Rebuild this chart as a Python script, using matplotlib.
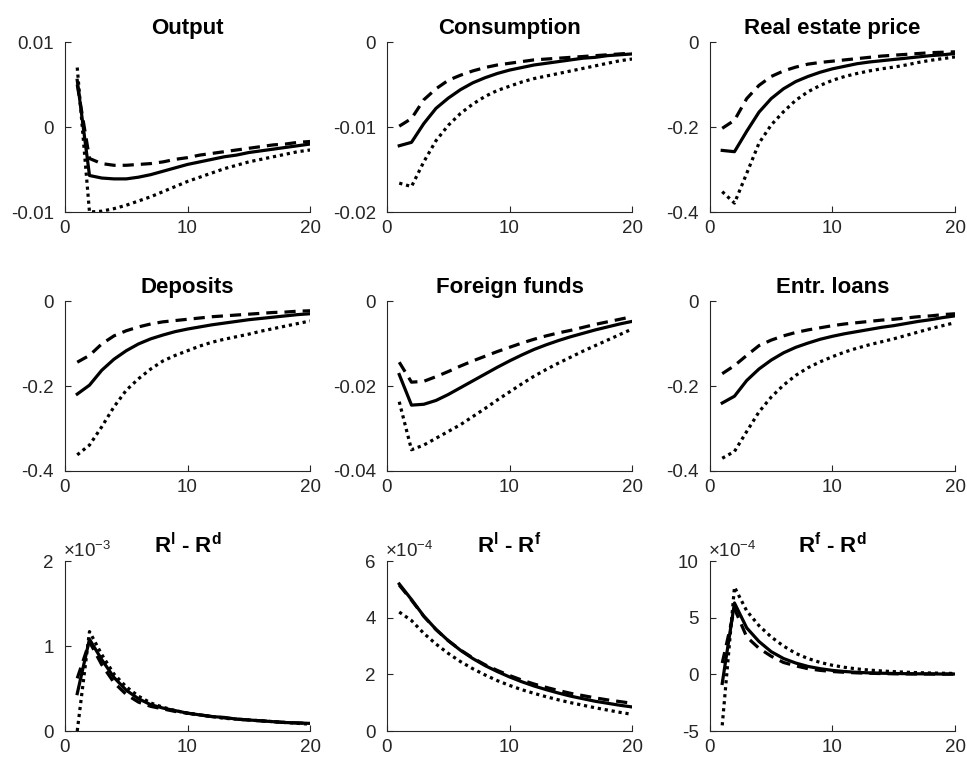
import numpy as np
import matplotlib
matplotlib.use("Agg")
import matplotlib.pyplot as plt
from matplotlib.ticker import FuncFormatter

plt.rcParams['font.family'] = ['Liberation Sans', 'DejaVu Sans']
plt.rcParams['mathtext.fontset'] = 'custom'
plt.rcParams['mathtext.rm'] = 'Liberation Sans'
plt.rcParams['mathtext.bf'] = 'Liberation Sans:bold'
plt.rcParams['mathtext.it'] = 'Liberation Sans:italic'

t = np.arange(1, 21)

# Output
out_solid = [0.0055, -0.0057, -0.0060, -0.0061, -0.0061, -0.0059, -0.0056, -0.0052, -0.0048, -0.0044,
             -0.0041, -0.0038, -0.0035, -0.0033, -0.0030, -0.0028, -0.0026, -0.0024, -0.0022, -0.0020]
out_dash = [0.0050, -0.0037, -0.0043, -0.0045, -0.0045, -0.0044, -0.0043, -0.0041, -0.0038, -0.0036,
            -0.0033, -0.0031, -0.0029, -0.0027, -0.0025, -0.0023, -0.0021, -0.0020, -0.0018, -0.0017]
out_dot = [0.0070, -0.0100, -0.0099, -0.0096, -0.0092, -0.0087, -0.0082, -0.0076, -0.0070, -0.0064,
           -0.0059, -0.0054, -0.0049, -0.0045, -0.0041, -0.0038, -0.0035, -0.0032, -0.0029, -0.0027]

# Consumption
con_solid = [-0.0122, -0.0118, -0.0096, -0.0078, -0.0066, -0.0056, -0.0048, -0.0042, -0.0037, -0.0033,
             -0.0030, -0.0027, -0.0025, -0.0023, -0.0021, -0.0019, -0.0018, -0.0016, -0.0015, -0.0014]
con_dash = [-0.0099, -0.0090, -0.0068, -0.0055, -0.0045, -0.0039, -0.0034, -0.0030, -0.0027, -0.0025,
            -0.0023, -0.0021, -0.0020, -0.0019, -0.0018, -0.0017, -0.0016, -0.0015, -0.0014, -0.0013]
con_dot = [-0.0166, -0.0170, -0.0141, -0.0116, -0.0098, -0.0084, -0.0073, -0.0064, -0.0057, -0.0052,
           -0.0047, -0.0043, -0.0040, -0.0037, -0.0034, -0.0031, -0.0028, -0.0025, -0.0022, -0.0020]

# Real estate price
rep_solid = [-0.255, -0.258, -0.210, -0.165, -0.133, -0.110, -0.093, -0.081, -0.071, -0.063,
             -0.057, -0.051, -0.047, -0.044, -0.041, -0.038, -0.035, -0.032, -0.030, -0.027]
rep_dash = [-0.203, -0.184, -0.133, -0.102, -0.081, -0.068, -0.059, -0.052, -0.048, -0.045,
            -0.042, -0.039, -0.036, -0.033, -0.031, -0.029, -0.027, -0.025, -0.024, -0.023]
rep_dot = [-0.352, -0.379, -0.309, -0.238, -0.195, -0.164, -0.137, -0.117, -0.102, -0.090,
           -0.081, -0.074, -0.068, -0.063, -0.059, -0.054, -0.048, -0.043, -0.039, -0.035]

# Deposits
dep_solid = [-0.219, -0.198, -0.163, -0.137, -0.117, -0.101, -0.089, -0.080, -0.072, -0.066,
             -0.061, -0.056, -0.052, -0.048, -0.044, -0.041, -0.038, -0.035, -0.032, -0.030]
dep_dash = [-0.144, -0.128, -0.101, -0.082, -0.070, -0.061, -0.054, -0.049, -0.046, -0.043,
            -0.040, -0.037, -0.035, -0.033, -0.031, -0.029, -0.027, -0.026, -0.024, -0.023]
dep_dot = [-0.362, -0.339, -0.296, -0.249, -0.210, -0.183, -0.160, -0.141, -0.128, -0.117,
           -0.106, -0.097, -0.090, -0.084, -0.078, -0.071, -0.065, -0.059, -0.053, -0.047]

# Foreign funds
ff_solid = [-0.0173, -0.0245, -0.0243, -0.0234, -0.0220, -0.0204, -0.0188, -0.0172, -0.0156, -0.0141,
            -0.0127, -0.0114, -0.0103, -0.0093, -0.0084, -0.0076, -0.0068, -0.0061, -0.0054, -0.0048]
ff_dash = [-0.0144, -0.0191, -0.0189, -0.0178, -0.0166, -0.0153, -0.0141, -0.0130, -0.0119, -0.0109,
           -0.0099, -0.0090, -0.0082, -0.0075, -0.0069, -0.0062, -0.0055, -0.0049, -0.0043, -0.0037]
ff_dot = [-0.0237, -0.0350, -0.0339, -0.0323, -0.0307, -0.0291, -0.0272, -0.0253, -0.0233, -0.0214,
          -0.0195, -0.0177, -0.0161, -0.0146, -0.0132, -0.0118, -0.0105, -0.0092, -0.0079, -0.0066]

# Entr. loans
el_solid = [-0.240, -0.224, -0.187, -0.160, -0.139, -0.122, -0.109, -0.099, -0.090, -0.083,
            -0.077, -0.072, -0.067, -0.062, -0.058, -0.053, -0.048, -0.044, -0.039, -0.035]
el_dash = [-0.171, -0.152, -0.128, -0.105, -0.092, -0.082, -0.074, -0.068, -0.063, -0.058,
           -0.054, -0.051, -0.048, -0.045, -0.043, -0.040, -0.037, -0.035, -0.032, -0.030]
el_dot = [-0.370, -0.354, -0.307, -0.261, -0.226, -0.198, -0.175, -0.157, -0.143, -0.131,
          -0.120, -0.111, -0.103, -0.096, -0.089, -0.081, -0.073, -0.065, -0.058, -0.051]

# R^l - R^d  (x 1e-3)
rld_solid = [0.44, 1.08, 0.84, 0.63, 0.48, 0.38, 0.31, 0.27, 0.24, 0.21,
             0.19, 0.17, 0.16, 0.14, 0.13, 0.12, 0.11, 0.10, 0.095, 0.09]
rld_dash = [0.62, 1.05, 0.78, 0.57, 0.43, 0.34, 0.29, 0.26, 0.23, 0.21,
            0.19, 0.17, 0.155, 0.14, 0.13, 0.12, 0.11, 0.10, 0.095, 0.09]
rld_dot = [0.00, 1.17, 0.90, 0.67, 0.52, 0.41, 0.33, 0.28, 0.24, 0.21,
           0.19, 0.17, 0.15, 0.14, 0.13, 0.12, 0.11, 0.10, 0.09, 0.08]

# R^l - R^f  (x 1e-4)
rlf_solid = [5.19, 4.64, 4.06, 3.59, 3.19, 2.85, 2.56, 2.31, 2.10, 1.91,
             1.74, 1.59, 1.46, 1.34, 1.23, 1.14, 1.05, 0.98, 0.91, 0.85]
rlf_dash = [5.15, 4.62, 4.05, 3.58, 3.19, 2.86, 2.58, 2.34, 2.14, 1.96,
            1.80, 1.66, 1.54, 1.43, 1.33, 1.25, 1.17, 1.10, 1.04, 0.98]
rlf_dot = [4.20, 3.90, 3.45, 3.07, 2.74, 2.45, 2.20, 1.98, 1.78, 1.61,
           1.46, 1.33, 1.21, 1.10, 1.00, 0.91, 0.82, 0.74, 0.66, 0.59]

# R^f - R^d  (x 1e-4)
rfd_solid = [-0.8, 6.3, 4.1, 2.9, 2.0, 1.4, 1.0, 0.7, 0.5, 0.35,
             0.25, 0.18, 0.13, 0.10, 0.08, 0.06, 0.05, 0.04, 0.03, 0.03]
rfd_dash = [1.0, 5.8, 3.3, 2.3, 1.6, 1.05, 0.75, 0.5, 0.35, 0.25,
            0.18, 0.13, 0.10, 0.07, 0.05, 0.04, 0.03, 0.03, 0.02, 0.02]
rfd_dot = [-4.5, 7.7, 5.6, 4.3, 3.3, 2.5, 1.85, 1.4, 1.05, 0.8,
           0.62, 0.48, 0.38, 0.30, 0.24, 0.19, 0.15, 0.12, 0.10, 0.08]

titles = ["Output", "Consumption", "Real estate price",
          "Deposits", "Foreign funds", "Entr. loans",
          r"$\mathbf{R^{l}}$ - $\mathbf{R^{d}}$",
          r"$\mathbf{R^{l}}$ - $\mathbf{R^{f}}$",
          r"$\mathbf{R^{f}}$ - $\mathbf{R^{d}}$"]
series = [(out_solid, out_dash, out_dot), (con_solid, con_dash, con_dot), (rep_solid, rep_dash, rep_dot),
          (dep_solid, dep_dash, dep_dot), (ff_solid, ff_dash, ff_dot), (el_solid, el_dash, el_dot),
          (rld_solid, rld_dash, rld_dot), (rlf_solid, rlf_dash, rlf_dot), (rfd_solid, rfd_dash, rfd_dot)]
scales = [1, 1, 1, 1, 1, 1, 1e-3, 1e-4, 1e-4]
yticks = [[-0.01, 0, 0.01], [-0.02, -0.01, 0], [-0.4, -0.2, 0],
          [-0.4, -0.2, 0], [-0.04, -0.02, 0], [-0.4, -0.2, 0],
          [0, 1, 2], [0, 2, 4, 6], [-5, 0, 5, 10]]
exps = [None] * 6 + ["-3", "-4", "-4"]

lefts = [0.0672, 0.4002, 0.7342]
bottoms = [0.7221, 0.3827, 0.0419]
w, h = 0.2534, 0.2228

fig = plt.figure(figsize=(9.67, 7.63), dpi=100)
for i in range(9):
    r, c = divmod(i, 3)
    ax = fig.add_axes([lefts[c], bottoms[r], w, h])
    s = scales[i]
    sol, das, dot = series[i]
    ax.plot(t, np.array(dot) * s, color='k', lw=2.3, linestyle=(0, (1, 1.2)), solid_capstyle='butt')
    ax.plot(t, np.array(das) * s, color='k', lw=2.3, linestyle=(0, (3.5, 2.2)))
    ax.plot(t, np.array(sol) * s, color='k', lw=2.3)
    ax.set_xlim(0, 20)
    ax.set_xticks([0, 10, 20])
    yt = np.array(yticks[i]) * s
    ax.set_ylim(yt[0], yt[-1])
    ax.set_yticks(yt)
    if s == 1:
        ax.set_yticklabels([('%g' % v) for v in yticks[i]])
    else:
        ax.yaxis.set_major_formatter(FuncFormatter(lambda v, p, s=s: '%g' % round(v / s, 6)))
        ax.text(-0.01, 1.0, r'$\times 10^{%s}$' % exps[i], transform=ax.transAxes,
                fontsize=13.5, color='#262626', ha='left', va='bottom')
    ax.spines['top'].set_visible(False)
    ax.spines['right'].set_visible(False)
    for sp in ['left', 'bottom']:
        ax.spines[sp].set_color('#262626')
        ax.spines[sp].set_linewidth(0.8)
    ax.tick_params(direction='in', length=4, width=0.8, labelsize=13.5, colors='#262626',
                   labelcolor='#262626')
    ax.tick_params(axis='x', pad=6)
    ax.tick_params(axis='y', pad=8)
    ax.set_title(titles[i], fontsize=16, fontweight='bold', pad=6)

fig.savefig("out.png", dpi=100)
